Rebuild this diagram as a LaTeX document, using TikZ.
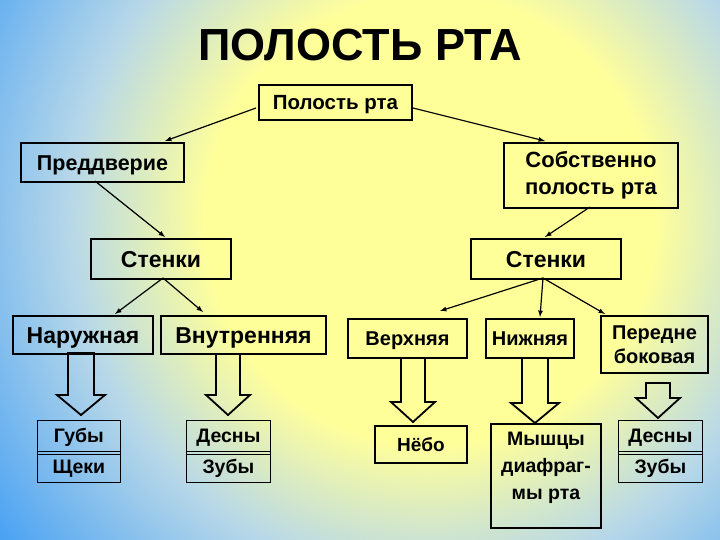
\documentclass[tikz,border=0pt]{standalone}
\usepackage{fontspec}
\setmainfont{Liberation Sans}
\usetikzlibrary{positioning}
\definecolor{yel}{HTML}{FFFF9A}
\definecolor{lb}{HTML}{B8D8E8}
\definecolor{bl}{HTML}{3A9AF5}
\pgfdeclareradialshading{bgshade}{\pgfpoint{0bp}{0bp}}{color(0bp)=(yel); color(10bp)=(yel); color(16bp)=(lb); color(25bp)=(bl); color(50bp)=(bl)}
\tikzset{
 frame/.style={draw=black, line width=2pt, align=center, inner sep=0pt, anchor=north west},
 bx/.style={frame, font=\bfseries\fontsize{23}{27}\selectfont, text height=16pt, text depth=0pt},
 sm/.style={frame, font=\bfseries\fontsize{20}{25}\selectfont, text height=14.4pt, text depth=0pt},
 ml/.style={frame, font=\bfseries\fontsize{20}{24}\selectfont},
 cell/.style={draw=black, line width=0.8pt, font=\bfseries\fontsize{19.5}{22}\selectfont, inner sep=0pt, anchor=north west, text height=14pt, text depth=0pt},
 con/.style={-latex, line width=1.2pt},
 hol/.style={draw=black, line width=1.8pt}
}
\newcommand{\hollowarrow}[5]{% cx, ytop, ybot, halfshaft, halfhead
 \draw[hol] (#1-#4,#2) -- (#1+#4,#2) -- (#1+#4,#3-20) -- (#1+#5,#3-20) -- (#1,#3) -- (#1-#5,#3-20) -- (#1-#4,#3-20) -- cycle;}
\begin{document}
\begin{tikzpicture}[x=1pt,y=-1pt]
\begin{scope}
\clip (0,0) rectangle (720,540);
\shade[shading=bgshade] (430,220) circle (560);
\end{scope}
\useasboundingbox (0,0) rectangle (720,540);
\node[font=\bfseries\fontsize{45}{48}\selectfont] (title) at (360,45) {ПОЛОСТЬ РТА};
\node[bx, font=\bfseries\fontsize{20.5}{25}\selectfont, text height=14.8pt, minimum width=153pt, minimum height=35pt] (pr) at (258,84) {Полость рта};
\node[bx, font=\bfseries\fontsize{21.5}{25}\selectfont, text height=15.5pt, minimum width=163pt, minimum height=39pt] (pd) at (20,142) {Преддверие};
\node[ml, font=\bfseries\fontsize{22}{27}\selectfont, minimum width=174pt, minimum height=65pt] (sp) at (503,142) {Собственно\\полость рта};
\node[bx, minimum width=140pt, minimum height=40pt] (sl) at (90,238) {Стенки};
\node[bx, minimum width=150pt, minimum height=40pt] (sr) at (470,238) {Стенки};
\node[bx, minimum width=140pt, minimum height=38pt] (nar) at (12,315) {Наружная};
\node[bx, minimum width=165pt, minimum height=38pt] (vn) at (160,315) {Внутренняя};
\node[sm, minimum width=119pt, minimum height=39pt] (ve) at (347,318) {Верхняя};
\node[sm, minimum width=88pt, minimum height=39pt] (ni) at (485,318) {Нижняя};
\node[ml, minimum width=107pt, minimum height=57pt] (pb) at (600,315) {Передне\\боковая};
% cells
\node[cell, minimum width=83pt, minimum height=31pt] (gu) at (37,420) {Губы};
\node[cell, minimum width=83pt, minimum height=31pt] (sh) at (37,451) {Щеки};
\draw[line width=0.8pt] (37,454) -- (120,454);
\node[cell, minimum width=84pt, minimum height=31pt] (de1) at (186,420) {Десны};
\node[cell, minimum width=84pt, minimum height=31pt] (zu1) at (186,451) {Зубы};
\draw[line width=0.8pt] (186,454) -- (270,454);
\node[cell, minimum width=84pt, minimum height=31pt] (de2) at (618,420) {Десны};
\node[cell, minimum width=84pt, minimum height=31pt] (zu2) at (618,451) {Зубы};
\draw[line width=0.8pt] (618,454) -- (702,454);
\node[sm, font=\bfseries\fontsize{19}{22}\selectfont, text height=13.7pt, minimum width=92pt, minimum height=37pt] (nb) at (374,425) {Нёбо};
\node[draw=black, line width=2pt, inner sep=0pt, anchor=north west, minimum width=110pt, minimum height=104pt] (my) at (490,423) {};
\node[font=\bfseries\fontsize{19.5}{27}\selectfont, align=center, anchor=north, inner sep=0pt] (myt) at ([yshift=-9pt]my.north) {Мышцы\\диафраг-\\мы рта};
% connectors
\coordinate (a1) at (256,108);
\draw[con] (a1) -- (165,141);
\coordinate (a2) at (413,108);
\draw[con] (a2) -- (545,141);
\coordinate (b1) at (95,181);
\draw[con] (b1) -- (165,237);
\coordinate (b2) at (590,207);
\draw[con] (b2) -- (545,237);
\coordinate (c1) at (163,278);
\draw[con] (c1) -- (115,314);
\draw[con] (c1) -- (203,312);
\coordinate (c2) at (543,278);
\draw[con] (c2) -- (440,311);
\draw[con] (c2) -- (540,317);
\draw[con] (c2) -- (605,314);
% hollow arrows
\hollowarrow{81}{353}{415}{13}{24}
\hollowarrow{228}{354}{415}{12}{22}
\hollowarrow{413}{358}{422}{12}{22}
\hollowarrow{535}{358}{423}{13}{24}
\hollowarrow{658}{383}{418}{12}{22}
\end{tikzpicture}
\end{document}
